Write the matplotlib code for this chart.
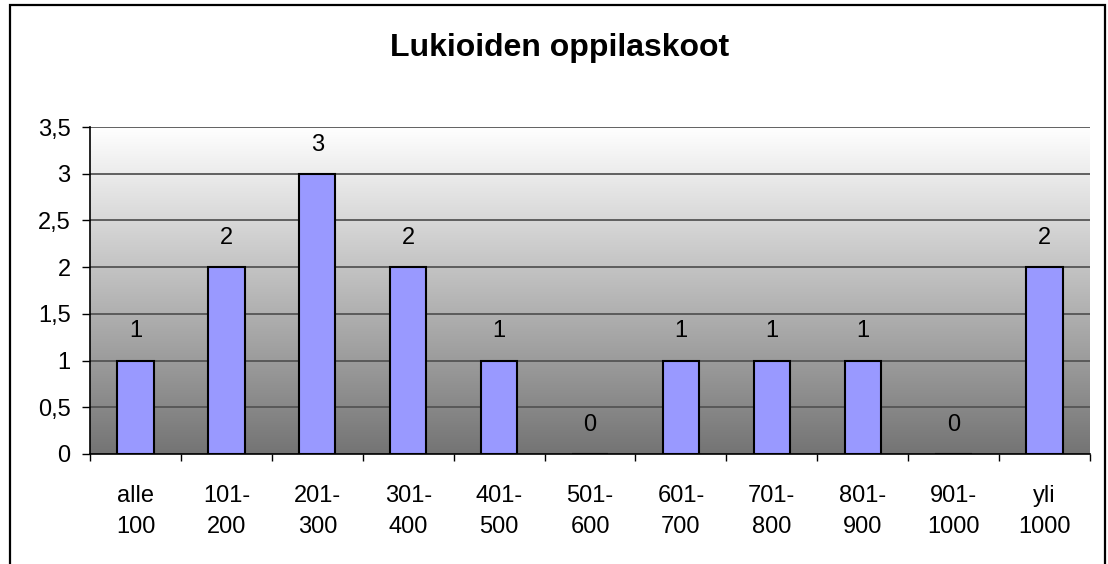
#!/usr/bin/env python3
"""Lukioiden oppilaskoot -- Excel-style bar chart."""

import matplotlib
matplotlib.use("Agg")
import matplotlib.pyplot as plt
import numpy as np
from matplotlib.colors import LinearSegmentedColormap
from matplotlib.patches import Rectangle
from matplotlib.ticker import FuncFormatter, MultipleLocator


categories = ["alle\n100", "101-\n200", "201-\n300", "301-\n400", "401-\n500",
              "501-\n600", "601-\n700", "701-\n800", "801-\n900", "901-\n1000",
              "yli\n1000"]
counts = [1, 2, 3, 2, 1, 0, 1, 1, 1, 0, 2]
title = "Lukioiden oppilaskoot"

plt.rcParams["font.family"] = ["Liberation Sans", "DejaVu Sans"]

fig = plt.figure(figsize=(11.08, 5.64), dpi=100)
ax = fig.add_axes([90 / 1108, 1 - 454 / 564, 1000 / 1108, 327 / 564])

# outer chart border (open at the bottom, as in the source)
fig.patches.append(Rectangle((10 / 1108, -0.05), 1095 / 1108, 1.05 - 5 / 564,
                             transform=fig.transFigure, fill=False,
                             edgecolor="black", linewidth=1.6, zorder=10))

n = len(categories)
x = np.arange(n)

# gradient background, white at top to grey at bottom
grad = np.linspace(0, 1, 256).reshape(-1, 1)
bg = LinearSegmentedColormap.from_list("bg", ["#ffffff", "#747474"])
ax.imshow(grad, cmap=bg, aspect="auto", extent=(-0.5, n - 0.5, 0, 3.5),
          origin="upper", zorder=0)
ax.set_xlim(-0.5, n - 0.5)
ax.set_ylim(0, 3.5)

ax.yaxis.set_major_locator(MultipleLocator(0.5))
ax.yaxis.set_major_formatter(FuncFormatter(lambda v, _: f"{v:g}".replace(".", ",")))
ax.grid(axis="y", color="#555555", linewidth=1.3, zorder=1)
ax.set_axisbelow(True)

ax.bar(x, counts, width=0.4, color="#9999ff", edgecolor="black", linewidth=1.5, zorder=3)
for xi, c in zip(x, counts):
    ax.annotate(f"{c}", (xi, c), textcoords="offset points", xytext=(0, 21),
                ha="center", va="center", fontsize=17)

ax.set_xticks(x)
ax.set_xticklabels(categories, fontsize=17, linespacing=1.55)
ax.set_xticks(np.arange(-0.5, n), minor=True)
ax.tick_params(axis="x", which="major", length=0, pad=22)
ax.tick_params(axis="x", which="minor", length=5, width=1, color="black", direction="out")
ax.tick_params(axis="y", length=6, width=1, labelsize=17, pad=8, direction="out")

for side in ("top", "right"):
    ax.spines[side].set_visible(False)
ax.spines["left"].set_linewidth(1.2)
ax.spines["bottom"].set_linewidth(1.2)

fig.text(560 / 1108, 1 - 48 / 564, title, ha="center", va="center",
         fontsize=23, fontweight="bold")

fig.savefig("out.png", dpi=100, facecolor="white")
